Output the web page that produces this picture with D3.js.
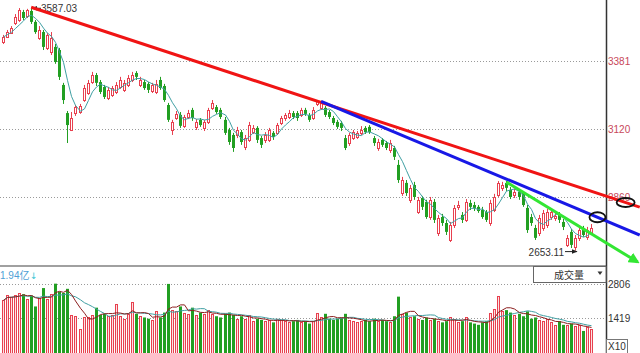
<!DOCTYPE html>
<html>
<head>
<meta charset="utf-8">
<script src="https://cdn.jsdelivr.net/npm/d3@7"></script>
<style>
  html, body { margin: 0; padding: 0; background: #fff; overflow: hidden; }
  #chart { width: 640px; height: 353px; }
  svg { display: block; font-family: "Liberation Sans", Arial, sans-serif; }
</style>
</head>
<body>
<div id="chart"></div>
<script>
// daily bars, left to right
const opens = [3454,3473,3488,3527,3538,3569,3554,3573,3531,3469,
  3492,3431,3416,3435,3423,3289,3181,3116,3181,3185,
  3231,3258,3300,3327,3300,3281,3239,3251,3262,3281,
  3270,3289,3308,3335,3289,3300,3293,3266,3262,3308,
  3285,3212,3116,3162,3174,3132,3166,3193,3128,3155,
  3124,3147,3201,3204,3193,3155,3116,3097,3097,3108,
  3051,3078,3108,3124,3085,3078,3078,3105,3105,3143,
  3162,3166,3181,3181,3174,3193,3174,3162,3216,3201,
  3201,3185,3162,3147,3143,3085,3066,3085,3089,3105,
  3124,3128,3085,3047,3078,3066,3039,3047,2982,2874,
  2913,2848,2905,2801,2855,2840,2782,2840,2721,2782,
  2759,2694,2752,2821,2790,2771,2836,2828,2821,2809,
  2801,2759,2809,2867,2894,2913,2886,2867,2878,2874,
  2817,2782,2740,2721,2740,2752,2782,2778,2790,2763,
  2675,2725,2667,2702,2740,2705,2721];
const highs = [3481,3500,3515,3561,3584,3577,3581,3587.03,3538,3515,
  3500,3488,3492,3446,3431,3297,3189,3185,3212,3216,
  3289,3308,3339,3335,3308,3289,3281,3285,3300,3320,
  3308,3327,3339,3342,3320,3308,3300,3297,3308,3320,
  3293,3220,3155,3189,3185,3174,3193,3201,3158,3162,
  3155,3201,3231,3212,3201,3166,3124,3105,3128,3116,
  3097,3147,3135,3131,3093,3108,3124,3112,3143,3170,
  3181,3193,3189,3189,3201,3201,3181,3204,3231,3229,
  3208,3193,3170,3155,3151,3097,3105,3116,3112,3131,
  3131,3135,3093,3082,3085,3074,3078,3055,3001,2936,
  2924,2905,2917,2859,2863,2848,2859,2851,2790,2794,
  2771,2763,2828,2844,2801,2851,2848,2840,2828,2821,
  2809,2848,2871,2920,2917,2920,2897,2890,2886,2882,
  2828,2794,2752,2790,2809,2813,2813,2798,2801,2775,
  2713,2736,2713,2744,2748,2744,2755];
const lows = [3446,3469,3485,3519,3531,3538,3546,3523,3485,3462,
  3423,3423,3404,3370,3308,3216,3066,3112,3170,3178,
  3224,3251,3293,3285,3254,3235,3231,3243,3254,3274,
  3262,3281,3300,3308,3281,3270,3258,3258,3254,3270,
  3224,3147,3097,3155,3124,3124,3158,3151,3116,3128,
  3112,3139,3193,3178,3158,3097,3059,3032,3085,3059,
  3039,3070,3101,3066,3047,3066,3070,3078,3097,3135,
  3151,3158,3158,3151,3166,3170,3147,3155,3208,3193,
  3166,3158,3135,3120,3112,3039,3055,3078,3082,3097,
  3101,3101,3055,3036,3051,3039,3028,3001,2913,2863,
  2863,2836,2848,2794,2809,2775,2771,2759,2709,2748,
  2713,2686,2740,2809,2759,2763,2809,2805,2798,2775,
  2763,2748,2801,2859,2882,2882,2851,2855,2848,2821,
  2721,2748,2694,2709,2729,2740,2771,2767,2759,2732,
  2667,2663,2653.11,2690,2706,2694,2713];
const closes = [3473,3492,3508,3550,3577,3546,3577,3531,3492,3500,
  3435,3481,3469,3377,3320,3231,3135,3162,3204,3208,
  3277,3297,3327,3297,3262,3243,3270,3277,3289,3308,
  3297,3316,3327,3320,3308,3277,3270,3289,3293,3277,
  3231,3155,3147,3178,3132,3166,3181,3162,3147,3135,
  3147,3193,3220,3185,3166,3105,3070,3047,3116,3070,
  3085,3135,3124,3078,3059,3097,3116,3089,3135,3162,
  3174,3181,3166,3162,3193,3178,3155,3193,3227,3224,
  3174,3166,3143,3128,3124,3047,3097,3108,3105,3116,
  3108,3108,3066,3070,3059,3047,3066,3013,2924,2924,
  2874,2894,2859,2848,2821,2782,2848,2771,2778,2759,
  2725,2752,2817,2828,2771,2840,2821,2817,2805,2782,
  2771,2836,2859,2913,2905,2894,2859,2878,2859,2828,
  2732,2759,2702,2778,2798,2801,2801,2786,2771,2744,
  2702,2675,2702,2732,2713,2732,2740];
const volumes = [2150,2380,2300,2350,2430,2400,2200,2350,1900,2250,
  2650,2200,2400,2830,2500,2450,2620,1550,1500,1000,
  1450,1450,1550,1850,1550,1600,1500,1550,2000,1500,
  1400,1600,2100,1600,1500,1450,1400,1350,1700,1450,
  1650,2820,1750,1700,1900,1650,1600,1850,1550,1650,
  1600,1750,1600,1500,1450,1600,1650,1550,1400,1500,
  1400,1550,1300,1400,1350,1300,1350,1250,1400,1350,
  1300,1250,1300,1350,1250,1300,1200,1300,1650,1450,
  1600,1400,1350,1400,1450,1600,1350,1300,1250,1300,
  1350,1300,1400,1300,1350,1300,1250,1500,2300,1600,
  1650,1450,1500,1400,1350,1450,1350,1400,1300,1250,
  1300,1450,1400,1250,1300,1450,1250,1200,1150,1250,
  1300,1650,1800,2330,1700,1750,1650,1550,1600,1500,
  1700,1400,1450,1350,1300,1400,1250,1150,1300,1150,
  1150,1200,1100,1150,900,1050,1000];

const priceTicks = [3381, 3120, 2860];
const volumeTicks = [2806, 1419];
const highLabel = { index: 7, value: 3587.03, text: "3587.03" };
const lowLabel = { index: 142, value: 2653.11, text: "2653.11" };
// trend lines as [bar index, price] end points
const redLine = [[7, 3587.03], [158.1, 2820]];
const blueLine = [[79, 3226], [158.1, 2713]];
const greenLine = [[125, 2916], [157.6, 2609]];
// circled spots, bar index on a trend line
const circleMarks = [
  { line: blueLine, index: 147.6, rx: 8, ry: 5 },
  { line: redLine, index: 154.6, rx: 9, ry: 4.5 },
];
const volumeTitle = "1.94亿";
const panelTitle = "成交量";
const volumeUnit = "X10";

class KChart {
  constructor(el) {
    this.el = el;
    this.wrangleData();
  }
  wrangleData() {
    this.bars = opens.map((o, i) => ({
      i,
      open: o,
      high: highs[i],
      low: lows[i],
      close: closes[i],
      volume: volumes[i],
      up: closes[i] >= o,
    }));
    this.ma5 = this.movingAverage(closes, 5);
    this.vma5 = this.movingAverage(volumes, 5);
    this.vma10 = this.movingAverage(volumes, 10);
    this.updated();
  }
  movingAverage(arr, n) {
    return arr.map((d, i) => d3.mean(arr.slice(Math.max(0, i - n + 1), i + 1)));
  }
  updated() {
    const that = this;
    that.width = 640;
    that.height = 353;
    that.axisX = 606;
    that.mainBottom = 266;
    that.up = "#e8404f";
    that.down = "#229f22";

    that.x = d3.scaleLinear().domain([0, 146]).range([3, 591]);
    that.y = d3.scaleLinear().domain([2594, 3615]).range([that.mainBottom, 0]);
    that.yv = d3.scaleLinear().domain([0, 3600]).range([that.height, 264.8]);
    const px = (i) => Math.round(that.x(i));

    that.svg = d3
      .select(`#${that.el}`)
      .append("svg")
      .attr("width", that.width)
      .attr("height", that.height)
      .attr("viewBox", [0, 0, that.width, that.height])
      .style("font-size", "10px");

    const defs = that.svg.append("defs");
    defs
      .append("marker")
      .attr("id", "arrowGreen")
      .attr("markerUnits", "userSpaceOnUse")
      .attr("viewBox", "0 0 10 10")
      .attr("refX", 8)
      .attr("refY", 5)
      .attr("markerWidth", 11)
      .attr("markerHeight", 11)
      .attr("orient", "auto")
      .append("path")
      .attr("d", "M0,0 L10,5 L0,10 Z")
      .attr("fill", "#33e633");
    defs
      .append("marker")
      .attr("id", "arrowDark")
      .attr("markerUnits", "userSpaceOnUse")
      .attr("viewBox", "0 0 10 10")
      .attr("refX", 9)
      .attr("refY", 5)
      .attr("markerWidth", 6)
      .attr("markerHeight", 6)
      .attr("orient", "auto")
      .append("path")
      .attr("d", "M0,1 L10,5 L0,9 Z")
      .attr("fill", "#222");

    // grid
    that.svg
      .append("g")
      .selectAll("line")
      .data(priceTicks)
      .join("line")
      .attr("x1", 0)
      .attr("x2", that.axisX)
      .attr("y1", (d) => Math.round(that.y(d)) + 0.5)
      .attr("y2", (d) => Math.round(that.y(d)) + 0.5)
      .attr("stroke", "#9a9a9a")
      .attr("stroke-dasharray", "1,2");
    that.svg
      .append("g")
      .selectAll("line")
      .data(volumeTicks)
      .join("line")
      .attr("x1", 0)
      .attr("x2", that.axisX)
      .attr("y1", (d) => Math.round(that.yv(d)) + 0.5)
      .attr("y2", (d) => Math.round(that.yv(d)) + 0.5)
      .attr("stroke", "#9a9a9a")
      .attr("stroke-dasharray", "1,2");

    // candles
    const candle = that.svg
      .append("g")
      .selectAll("g")
      .data(that.bars)
      .join("g");
    candle
      .append("line")
      .attr("x1", (d) => px(d.i) + 0.5)
      .attr("x2", (d) => px(d.i) + 0.5)
      .attr("y1", (d) => that.y(d.high))
      .attr("y2", (d) => that.y(d.low))
      .attr("stroke", (d) => (d.up ? that.up : that.down));
    candle
      .filter((d) => d.up)
      .append("rect")
      .attr("x", (d) => px(d.i) - 0.5)
      .attr("y", (d) => Math.round(that.y(d.close)) + 0.5)
      .attr("width", 2)
      .attr("height", (d) => Math.max(0.5, Math.round(that.y(d.open) - that.y(d.close))))
      .attr("fill", "#fff")
      .attr("stroke", that.up);
    candle
      .filter((d) => !d.up)
      .append("rect")
      .attr("x", (d) => px(d.i) - 1)
      .attr("y", (d) => that.y(d.open))
      .attr("width", 3)
      .attr("height", (d) => Math.max(1, that.y(d.close) - that.y(d.open)))
      .attr("fill", that.down);

    // MA5
    that.svg
      .append("path")
      .datum(that.ma5)
      .attr("fill", "none")
      .attr("stroke", "#3f9fa3")
      .attr("stroke-width", 1)
      .attr("d", d3.line().x((d, i) => px(i) + 0.5).y((d) => that.y(d)));

    // volume bars
    const vbar = that.svg
      .append("g")
      .selectAll("rect")
      .data(that.bars)
      .join("rect");
    vbar
      .filter((d) => d.up)
      .attr("x", (d) => px(d.i) - 0.5)
      .attr("y", (d) => Math.round(that.yv(d.volume)) + 0.5)
      .attr("width", 2)
      .attr("height", (d) => that.height - Math.round(that.yv(d.volume)))
      .attr("fill", "#fbe3e3")
      .attr("stroke", that.up);
    vbar
      .filter((d) => !d.up)
      .attr("x", (d) => px(d.i) - 1)
      .attr("y", (d) => that.yv(d.volume))
      .attr("width", 3)
      .attr("height", (d) => that.height - that.yv(d.volume))
      .attr("fill", that.down);

    const vline = d3.line().x((d, i) => px(i) + 0.5).y((d) => that.yv(d));
    that.svg
      .append("path")
      .datum(that.vma10)
      .attr("fill", "none")
      .attr("stroke", "#3f9fa3")
      .attr("d", vline);
    that.svg
      .append("path")
      .datum(that.vma5)
      .attr("fill", "none")
      .attr("stroke", "#8c1f1f")
      .attr("d", vline);

    // panel frame
    that.svg
      .append("line")
      .attr("x1", 0)
      .attr("x2", that.axisX)
      .attr("y1", that.mainBottom)
      .attr("y2", that.mainBottom)
      .attr("stroke", "#a0a0a0")
      .attr("stroke-width", 2);
    that.svg
      .append("line")
      .attr("x1", that.axisX + 0.5)
      .attr("x2", that.axisX + 0.5)
      .attr("y1", 0)
      .attr("y2", that.height)
      .attr("stroke", "#333")
      .attr("stroke-width", 1.5);

    // axis labels
    that.svg
      .append("g")
      .selectAll("text")
      .data(priceTicks)
      .join("text")
      .attr("x", that.axisX + 2)
      .attr("y", (d) => that.y(d) + 4)
      .attr("fill", "#c8485a")
      .text((d) => d);
    that.svg
      .append("g")
      .selectAll("text")
      .data(volumeTicks)
      .join("text")
      .attr("x", that.axisX + 2)
      .attr("y", (d) => that.yv(d) + 4)
      .attr("fill", "#333")
      .text((d) => d);
    that.svg
      .append("rect")
      .attr("x", that.axisX + 0.5)
      .attr("y", 339.5)
      .attr("width", 21)
      .attr("height", 14)
      .attr("fill", "#fff")
      .attr("stroke", "#777");
    that.svg
      .append("text")
      .attr("x", that.axisX + 2)
      .attr("y", 350)
      .attr("fill", "#333")
      .text(volumeUnit);

    // volume header
    that.svg
      .append("text")
      .attr("x", 0)
      .attr("y", 279)
      .attr("fill", "#4f9fd6")
      .style("font-family", "'Liberation Sans', 'Noto Sans CJK SC', sans-serif")
      .text(volumeTitle);
    that.svg
      .append("text")
      .attr("x", 30)
      .attr("y", 279)
      .attr("fill", "#35c4d4")
      .style("font-family", "'DejaVu Sans', sans-serif")
      .style("font-size", "9px")
      .text("↓");
    that.svg
      .append("rect")
      .attr("x", 533.5)
      .attr("y", 266.5)
      .attr("width", that.axisX - 533.5)
      .attr("height", 16)
      .attr("fill", "#fff")
      .attr("stroke", "#666");
    that.svg
      .append("text")
      .attr("x", 569)
      .attr("y", 278.5)
      .attr("text-anchor", "middle")
      .attr("fill", "#333")
      .style("font-family", "'Noto Sans CJK SC', sans-serif")
      .text(panelTitle);
    that.svg
      .append("path")
      .attr("d", "M597.5,271.5 L602.5,271.5 L600,275 Z")
      .attr("fill", "#333");

    // high / low labels
    const hx = px(highLabel.index);
    const hy = that.y(highLabel.value);
    that.svg
      .append("line")
      .attr("x1", hx + 10)
      .attr("x2", hx + 1)
      .attr("y1", hy + 1)
      .attr("y2", hy + 1)
      .attr("stroke", "#222")
      .attr("marker-end", "url(#arrowDark)");
    that.svg
      .append("text")
      .attr("x", hx + 10)
      .attr("y", hy + 5)
      .attr("fill", "#333")
      .text(highLabel.text);

    const lx = px(lowLabel.index);
    const ly = that.y(lowLabel.value);
    that.svg
      .append("line")
      .attr("x1", lx - 10)
      .attr("x2", lx + 2)
      .attr("y1", ly + 1)
      .attr("y2", ly + 1)
      .attr("stroke", "#222")
      .attr("marker-end", "url(#arrowDark)");
    that.svg
      .append("text")
      .attr("x", lx - 11)
      .attr("y", ly + 5)
      .attr("text-anchor", "end")
      .attr("fill", "#333")
      .text(lowLabel.text);

    // trend lines
    const tline = d3.line().x((d) => that.x(d[0])).y((d) => that.y(d[1]));
    that.svg
      .append("path")
      .datum(redLine)
      .attr("d", tline)
      .attr("stroke", "#f01414")
      .attr("stroke-width", 3)
      .attr("fill", "none");
    that.svg
      .append("path")
      .datum(blueLine)
      .attr("d", tline)
      .attr("stroke", "#1818e6")
      .attr("stroke-width", 3)
      .attr("fill", "none");
    that.svg
      .append("path")
      .datum(greenLine)
      .attr("d", tline)
      .attr("stroke", "#33e633")
      .attr("stroke-width", 3)
      .attr("fill", "none")
      .attr("marker-end", "url(#arrowGreen)");

    that.svg
      .append("g")
      .selectAll("ellipse")
      .data(circleMarks)
      .join("ellipse")
      .attr("cx", (d) => that.x(d.index))
      .attr("cy", (d) => that.y(that.onLine(d.line, d.index)))
      .attr("rx", (d) => d.rx)
      .attr("ry", (d) => d.ry)
      .attr("fill", "none")
      .attr("stroke", "#111")
      .attr("stroke-width", 1.8);
  }
  onLine(line, index) {
    const [[i0, v0], [i1, v1]] = line;
    return v0 + ((index - i0) * (v1 - v0)) / (i1 - i0);
  }
}

new KChart("chart");
</script>
</body>
</html>
